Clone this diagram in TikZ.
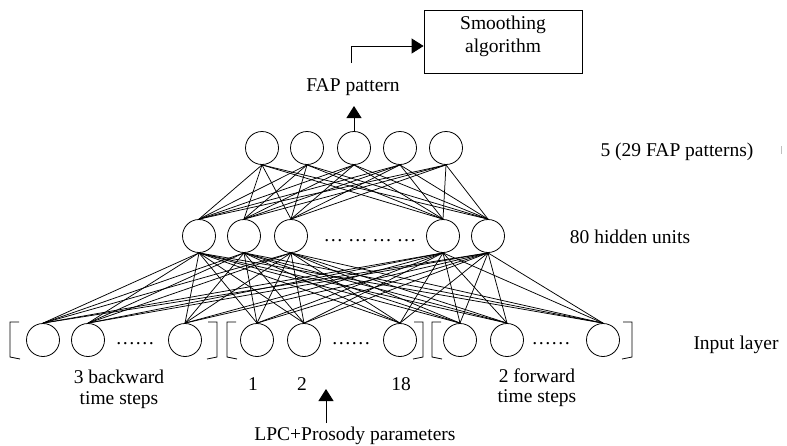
\documentclass[tikz,border=0pt]{standalone}
\usepackage{fontspec}
\setmainfont{Liberation Serif}
\usetikzlibrary{arrows.meta}
\begin{document}
\begin{tikzpicture}[x=1pt,y=-1pt,
  unit/.style={draw,circle,minimum size=33pt,inner sep=0pt,line width=0.8pt},
  link/.style={line width=0.75pt},
  lbl/.style={anchor=base,inner sep=0pt,font=\fontsize{19.5}{23}\selectfont},
  brk/.style={line width=0.8pt},
  tip/.style={-{Triangle[length=12pt,width=15pt]},line width=0.9pt}]
\useasboundingbox (0,0) rectangle (787,445);

% output layer
\foreach \x [count=\i] in {262,307,354,400,446}
  \node[unit] (o\i) at (\x,148) {};
% hidden layer
\foreach \x [count=\i] in {199,244,291,443,488}
  \node[unit] (h\i) at (\x,236) {};
% input layer: three groups of time steps
\foreach \x [count=\i] in {43,88,185,257,304,400,460,507,603}
  \node[unit] (in\i) at (\x,340) {};

% full connections between layers
\foreach \i in {1,...,5}
  \foreach \j in {1,...,5}
    \draw[link] (o\i.south) -- (h\j.north);
\foreach \i in {1,...,5}
  \foreach \j in {1,...,9}
    \draw[link] (h\i.south) -- (in\j.north);

% brackets round each input group
\foreach \L/\R in {10/217,227/423,432/632}{
  \draw[brk] (\L+9,322) -- (\L,322) -- (\L,357) -- (\L+10,359);
  \draw[brk] (\R-9,322) -- (\R,322) -- (\R,357) -- (\R-10,359);
}

% ellipses for omitted units
\node[lbl] (hdots) at (370,241) {\textellipsis\ \textellipsis\ \textellipsis\ \textellipsis};
\node[lbl] (d1) at (135,344) {\textellipsis\textellipsis};
\node[lbl] (d2) at (351,344) {\textellipsis\textellipsis};
\node[lbl] (d3) at (551,344) {\textellipsis\textellipsis};

% layer labels
\node[lbl] (outl) at (677,156) {5 (29 FAP patterns)};
\node[lbl] (hidl) at (630,243) {80 hidden units};
\node[lbl] (inl) at (736,349) {Input layer};

% input group labels
\node[lbl] (bw1) at (119,383) {3 backward};
\node[lbl] (bw2) at (119,404) {time steps};
\node[lbl] (n1) at (253,390) {1};
\node[lbl] (n2) at (302,390) {2};
\node[lbl] (n18) at (401,390) {18};
\node[lbl] (fw1) at (537,382) {2 forward};
\node[lbl] (fw2) at (537,402) {time steps};

% input feed
\coordinate (lpcTail) at (326,423);
\coordinate (lpcHead) at (326,389);
\draw[tip] (lpcTail) -- (lpcHead);
\node[lbl] (lpc) at (355,440) {LPC+Prosody parameters};

% output side
\coordinate (fapHead) at (354,106);
\draw[tip] (o3.north) -- (fapHead);
\node[lbl] (fap) at (353,91) {FAP pattern};

\node[draw,line width=0.8pt,minimum width=158pt,minimum height=63pt,inner sep=0pt]
  (smooth) at (503,41.5) {};
\node[lbl] (sm1) at (503,29) {Smoothing};
\node[lbl] (sm2) at (503,52) {algorithm};

\coordinate (fapTail) at (351,63);
\coordinate (fapBend) at (351,46);
\draw[tip] (fapTail) -- (fapBend) -- (smooth.west |- fapBend);

% faint tick at the right margin
\draw[black!25,line width=0.8pt] (781,146) -- (781,154);
\end{tikzpicture}
\end{document}
